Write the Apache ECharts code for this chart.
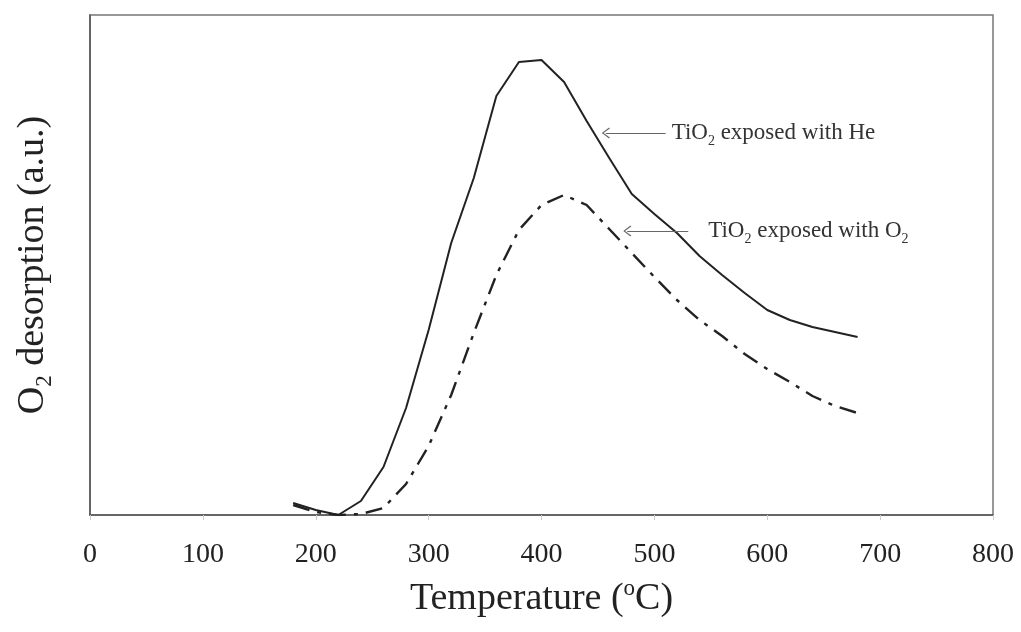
<!DOCTYPE html>
<html>
<head>
<meta charset="utf-8">
<script src="https://cdn.jsdelivr.net/npm/echarts@6/dist/echarts.min.js"></script>
<style>
  html, body { margin: 0; padding: 0; background: #fff; }
  #chart { width: 1021px; height: 632px; }
</style>
</head>
<body>
<div id="chart"></div>
<script>
// Temperature steps (°C)
const temperatures = [180, 200, 220, 240, 260, 280, 300, 320, 340, 360, 380, 400, 420,
  440, 460, 480, 500, 520, 540, 560, 580, 600, 620, 640, 660, 680];
// O2 desorption signal (a.u.) for TiO2 pre-treated in He
const heSeries = [2.4, 1.0, 0.0, 2.8, 9.6, 21.4, 37.0, 54.4, 67.4, 83.8, 90.6, 91.0, 86.6,
  78.8, 71.4, 64.2, 60.2, 56.4, 51.8, 48.0, 44.4, 41.0, 39.0, 37.6, 36.6, 35.6];
// O2 desorption signal (a.u.) for TiO2 pre-treated in O2
const o2Series = [2.0, 0.6, 0.0, 0.2, 1.4, 6.2, 13.8, 24.0, 36.4, 48.0, 57.0, 62.0, 64.0,
  62.0, 57.2, 52.4, 47.6, 43.0, 39.0, 35.8, 32.2, 29.2, 26.6, 23.8, 21.8, 20.4];
// x-axis range and step
const xTicks = { min: 0, max: 800, step: 100 };
// annotation arrows: [labelSideX, tipX, y] in data units
const heNote = [510, 457, 76.4];
const o2Note = [530, 476, 56.8];

const serif = '"Liberation Serif", "Times New Roman", serif';
const ink = '#222';

function pair(arr) { return temperatures.map((t, i) => [t, arr[i]]); }

// thin open chevron used as arrow head
const chevron = 'path://M5,0 L10,9 L9,10 L5,2.2 L1,10 L0,9 Z';

function note(n, richText, gap) {
  return {
    silent: true,
    symbol: ['none', chevron],
    symbolSize: [11, 8],
    lineStyle: { color: '#666', width: 1, type: 'solid' },
    label: {
      show: true,
      position: 'start',
      distance: gap,
      formatter: richText,
      fontFamily: serif,
      color: '#333',
      rich: {
        t: { fontFamily: serif, fontSize: 23, color: '#333', lineHeight: 30, verticalAlign: 'middle' },
        s: { fontFamily: serif, fontSize: 14, color: '#333', lineHeight: 11, verticalAlign: 'bottom' }
      }
    },
    data: [[{ coord: [n[0], n[2]] }, { coord: [n[1], n[2]] }]]
  };
}

const chart = echarts.init(document.getElementById('chart'), null, { renderer: 'canvas' });
chart.setOption({
  animation: false,
  backgroundColor: '#fff',
  grid: {
    left: 90, right: 28, top: 15, bottom: 117,
    show: true, borderColor: '#777', borderWidth: 1.5, backgroundColor: 'transparent'
  },
  xAxis: {
    type: 'value',
    min: xTicks.min, max: xTicks.max, interval: xTicks.step,
    name: '{t|Temperature (}{s|o}{t|C)}',
    nameLocation: 'middle',
    nameGap: 62,
    nameTextStyle: {
      rich: {
        t: { fontFamily: serif, fontSize: 38, color: ink, lineHeight: 44, verticalAlign: 'middle' },
        s: { fontFamily: serif, fontSize: 23, color: ink, lineHeight: 44, verticalAlign: 'top' }
      }
    },
    axisLine: { show: true, lineStyle: { color: '#555', width: 1.5 } },
    axisTick: { show: true, length: 5, inside: false, lineStyle: { color: '#ccc', width: 1 } },
    axisLabel: { fontFamily: serif, fontSize: 28, color: ink, margin: 26 },
    splitLine: { show: false }
  },
  yAxis: {
    type: 'value',
    min: 0, max: 100,
    name: '{t|O}{s|2}{t| desorption (a.u.)}',
    nameLocation: 'middle',
    nameRotate: 90,
    nameGap: 34,
    nameTextStyle: {
      rich: {
        t: { fontFamily: serif, fontSize: 38, color: ink, lineHeight: 46, verticalAlign: 'middle' },
        s: { fontFamily: serif, fontSize: 23, color: ink, lineHeight: 20, verticalAlign: 'bottom' }
      }
    },
    axisLine: { show: true, lineStyle: { color: '#555', width: 1.5 } },
    axisTick: { show: false },
    axisLabel: { show: false },
    splitLine: { show: false }
  },
  series: [
    {
      name: 'TiO2 exposed with He',
      type: 'line',
      data: pair(heSeries),
      showSymbol: false,
      symbol: 'none',
      lineStyle: { color: ink, width: 2, type: 'solid' },
      markLine: note(heNote, '{t|TiO}{s|2}{t| exposed with He}', 6)
    },
    {
      name: 'TiO2 exposed with O2',
      type: 'line',
      data: pair(o2Series),
      showSymbol: false,
      symbol: 'none',
      lineStyle: { color: ink, width: 2.4, type: [17, 8, 4, 8] },
      markLine: note(o2Note, '{t|TiO}{s|2}{t| exposed with O}{s|2}', 20)
    }
  ]
});
</script>
</body>
</html>
